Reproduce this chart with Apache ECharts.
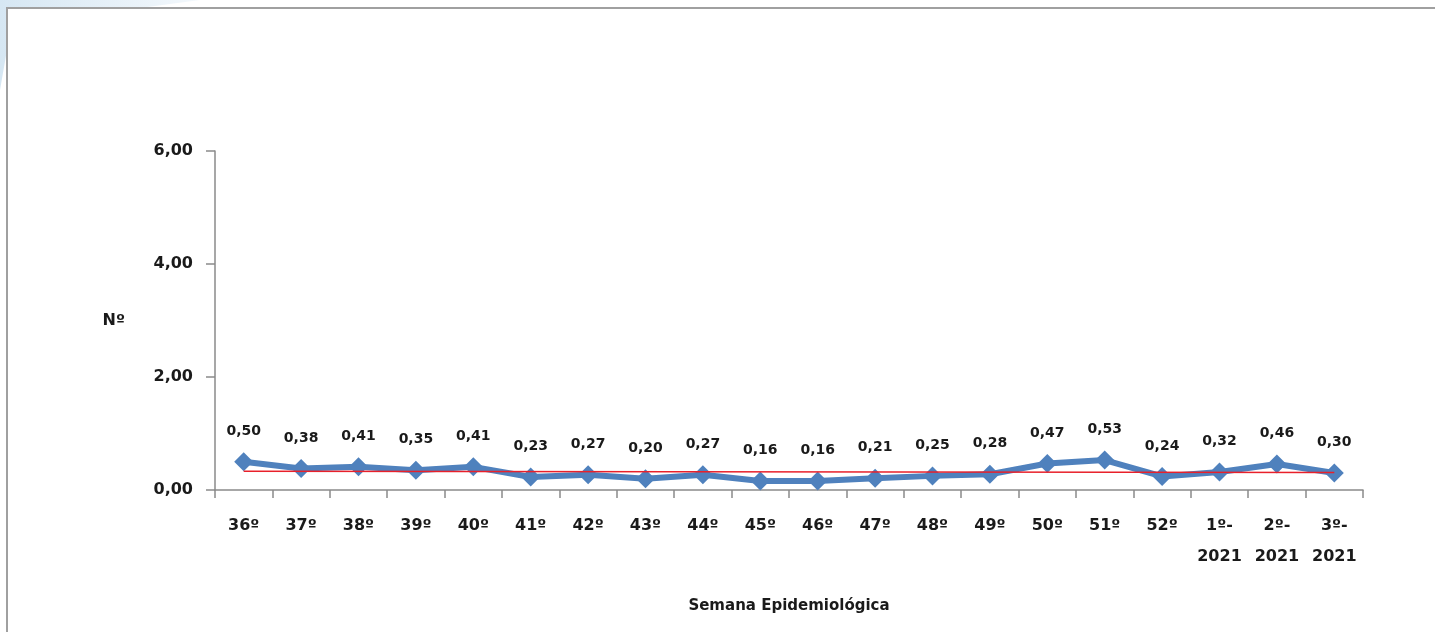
<!DOCTYPE html>
<html>
<head>
<meta charset="utf-8">
<script src="https://cdn.jsdelivr.net/npm/echarts@6/dist/echarts.min.js"></script>
<style>
html,body{margin:0;padding:0;background:#fff;}
#c{width:1435px;height:632px;}
</style>
</head>
<body>
<div id="c"></div>
<script>
var categories = ['36º','37º','38º','39º','40º','41º','42º','43º','44º','45º','46º','47º','48º','49º','50º','51º','52º','1º-\n2021','2º-\n2021','3º-\n2021'];
var values = [0.50,0.38,0.41,0.35,0.41,0.23,0.27,0.20,0.27,0.16,0.16,0.21,0.25,0.28,0.47,0.53,0.24,0.32,0.46,0.30];
var trendEnds = [0.33, 0.31];
var yTicks = [0, 2, 4, 6];

var trendData = categories.map(function(c, i){
  if (i === 0) return trendEnds[0];
  if (i === categories.length - 1) return trendEnds[1];
  return null;
});

var fmt = function(v){ return Number(v).toFixed(2).replace('.', ','); };
var chart = echarts.init(document.getElementById('c'));
var FONT = 'DejaVu Sans';
chart.setOption({
  backgroundColor: '#fff',
  animation: false,
  graphic: [
    {type:'polygon', silent:true, z:-10, shape:{points:[[0,0],[200,0],[140,8],[7,8],[7,50],[0,90]]},
      style:{fill:{type:'linear',x:0,y:0,x2:1,y2:0,colorStops:[{offset:0,color:'#d6e7f3'},{offset:1,color:'#f3f8fc'}]}}},
    {type:'rect', silent:true, z:-5, shape:{x:7,y:8,width:1445,height:640},
      style:{fill:'#fff', stroke:'#a0a0a0', lineWidth:2}}
  ],
  grid: {left:215, right:72, top:151, bottom:142, containLabel:false},
  xAxis: {
    type:'category', data:categories, boundaryGap:true,
    name:'Semana Epidemiológica', nameLocation:'middle', nameGap:109,
    nameTextStyle:{fontFamily:FONT, fontSize:15, fontWeight:'bold', color:'#1a1a1a'},
    axisLine:{lineStyle:{color:'#8a8a8a', width:1.5}},
    axisTick:{show:true, alignWithLabel:false, length:8, lineStyle:{color:'#8a8a8a', width:1.5}},
    axisLabel:{fontFamily:FONT, fontSize:16, fontWeight:'bold', color:'#1a1a1a', margin:20, lineHeight:31, interval:0}
  },
  yAxis: {
    type:'value', min:yTicks[0], max:yTicks[yTicks.length-1], interval:2,
    name:'Nº', nameLocation:'middle', nameRotate:0, nameGap:90,
    nameTextStyle:{fontFamily:FONT, fontSize:16, fontWeight:'bold', color:'#1a1a1a', padding:[8,0,0,0]},
    axisLine:{show:true, lineStyle:{color:'#8a8a8a', width:1.5}},
    axisTick:{show:true, inside:false, length:9, lineStyle:{color:'#8a8a8a', width:1.5}},
    splitLine:{show:false},
    axisLabel:{fontFamily:FONT, fontSize:16, fontWeight:'bold', color:'#1a1a1a', margin:22, formatter:fmt}
  },
  series: [
    {
      type:'line', data:trendData, connectNulls:true, symbol:'none', z:3,
      lineStyle:{color:'#e8202a', width:1.5}
    },
    {
      type:'line', data:values, symbol:'diamond', symbolSize:19, z:2,
      itemStyle:{color:'#4f81bd'},
      lineStyle:{color:'#4f81bd', width:6},
      label:{show:true, position:'top', distance:14, formatter:function(p){return fmt(p.value);},
        fontFamily:FONT, fontSize:14, fontWeight:'bold', color:'#1a1a1a'}
    }
  ]
});
</script>
</body>
</html>
